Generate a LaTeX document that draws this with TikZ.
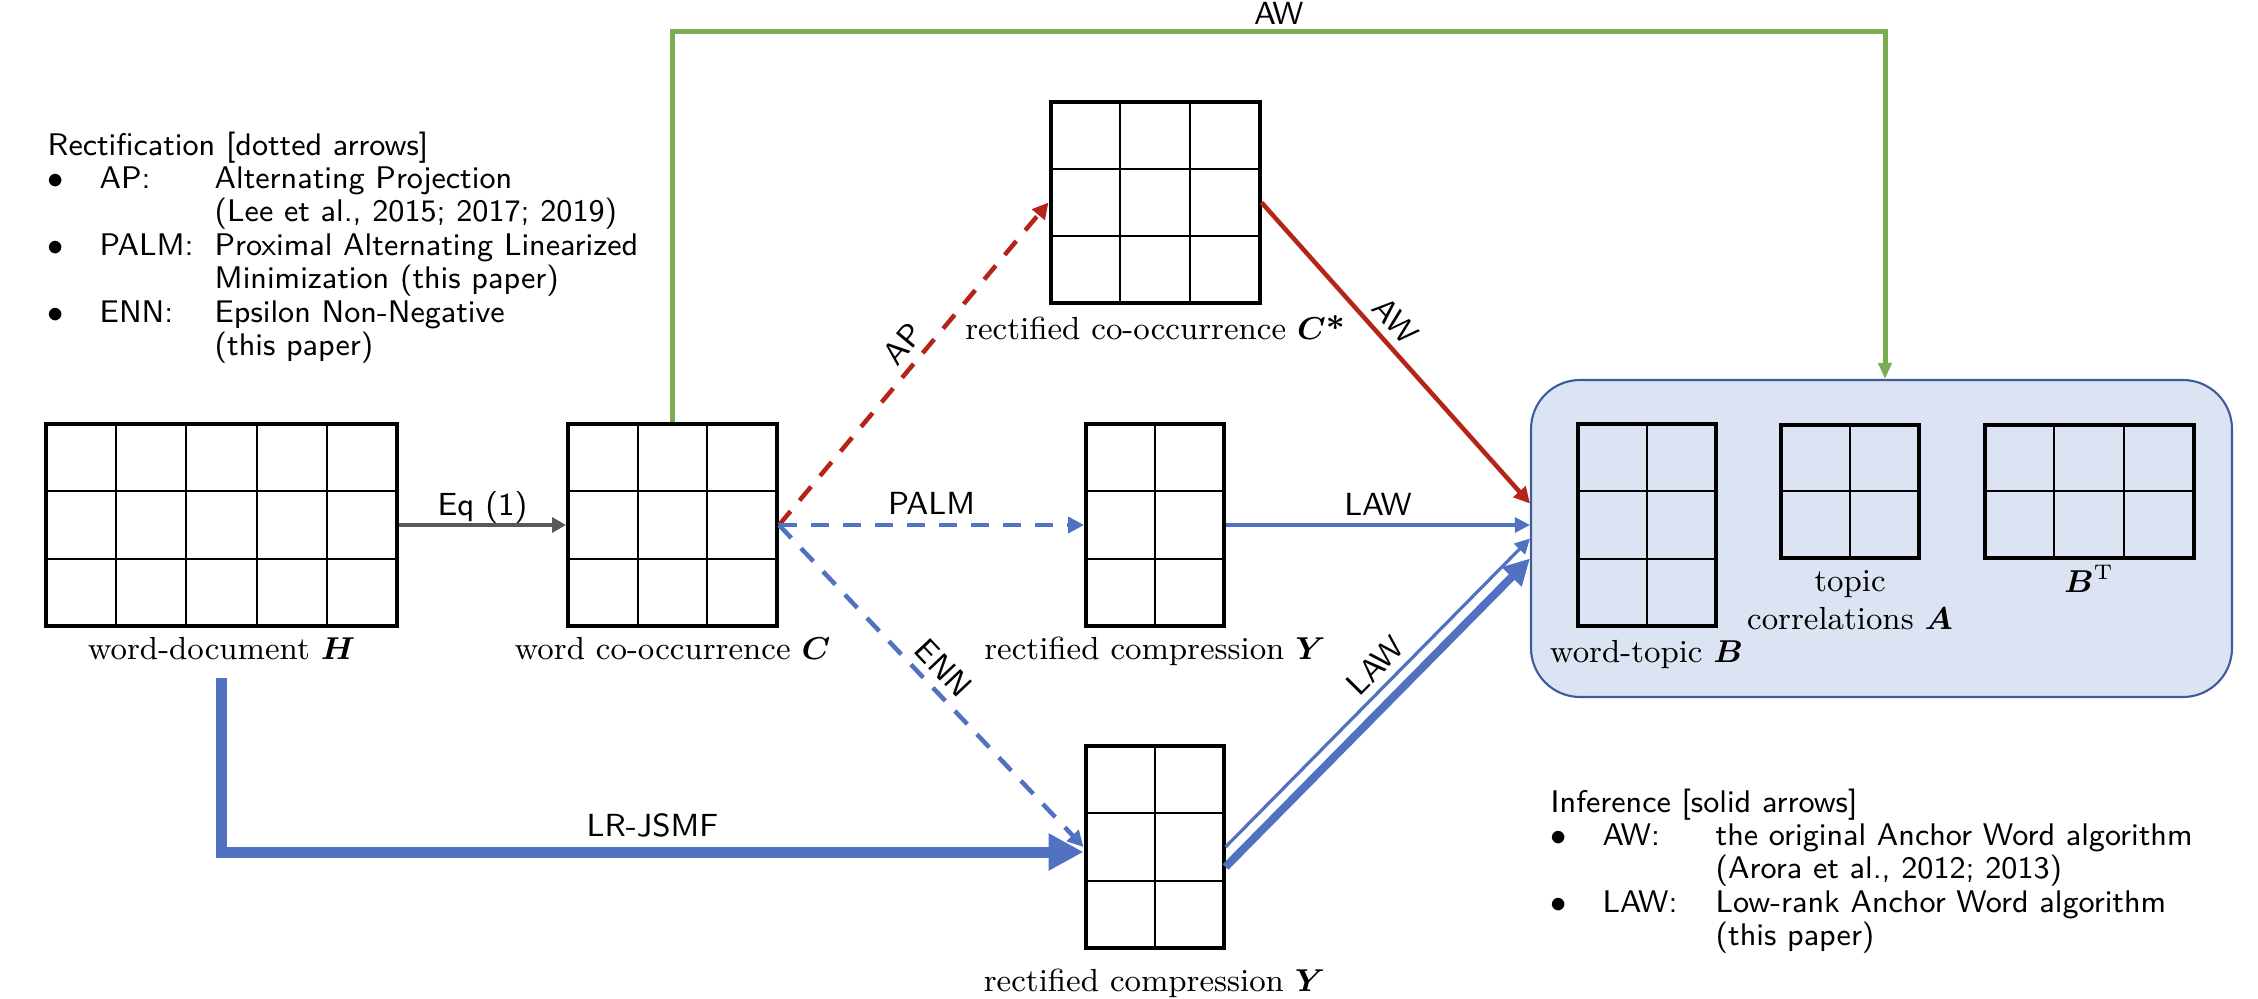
\documentclass[tikz,border=0pt]{standalone}
\usepackage{amsmath}
\usepackage{tikz}
\usetikzlibrary{positioning,calc,arrows.meta}

\definecolor{awgreen}{RGB}{122,172,84}
\definecolor{apred}{RGB}{181,36,24}
\definecolor{lawblue}{RGB}{80,114,192}
\definecolor{eqgray}{RGB}{89,89,89}
\definecolor{boxfill}{RGB}{220,227,242}
\definecolor{boxline}{RGB}{62,92,155}

\tikzset{
  mat/.style 2 args={draw, line width=0.4mm, inner sep=0pt,
    minimum width=#1*7.1mm-0.4mm, minimum height=#2*6.85mm-0.4mm,
    path picture={
      \foreach \i in {1,...,#1}
        \draw[line width=0.2mm]
          ($(path picture bounding box.north west)!\i/#1!(path picture bounding box.north east)$)
       -- ($(path picture bounding box.south west)!\i/#1!(path picture bounding box.south east)$);
      \foreach \j in {1,...,#2}
        \draw[line width=0.2mm]
          ($(path picture bounding box.north west)!\j/#2!(path picture bounding box.south west)$)
       -- ($(path picture bounding box.north east)!\j/#2!(path picture bounding box.south east)$);
    }},
  mlab/.style={font=\fontsize{9.1}{10.8}\selectfont, inner sep=0pt, anchor=base},
  elab/.style={font=\sffamily\fontsize{9.1}{11}\selectfont, text depth=0pt, inner sep=0.8mm},
  txt/.style={font=\sffamily\fontsize{8.9}{9.5}\selectfont, inner sep=0pt, anchor=base west},
  outbox/.style={draw=boxline, fill=boxfill, line width=0.6pt, rounded corners=4.9mm,
    minimum width=7.01cm, minimum height=3.17cm},
  eqarr/.style={draw=eqgray, line width=0.35mm, -{Triangle[length=1.4mm,width=1.5mm]}},
  rectred/.style={draw=apred, line width=0.45mm, dash pattern=on 1.8mm off 1.4mm,
    -{Triangle[length=1.6mm,width=1.6mm]}},
  rectblue/.style={draw=lawblue, line width=0.45mm, dash pattern=on 1.8mm off 1.4mm,
    -{Triangle[length=1.6mm,width=1.6mm]}},
  awred/.style={draw=apred, line width=0.45mm, -{Triangle[length=1.6mm,width=1.6mm]}},
  lawline/.style={draw=lawblue, line width=0.32mm, -{Triangle[length=1.5mm,width=1.5mm]}},
  lawthick/.style={draw=lawblue, line width=0.8mm, -{Triangle[length=2.6mm,width=2.6mm]}},
  jsmf/.style={draw=lawblue, line width=1.1mm, -{Triangle[length=3.5mm,width=3.5mm]}},
  awline/.style={draw=awgreen, line width=0.5mm, -{Triangle[length=1.6mm,width=1.3mm]}}
}

\begin{document}
\begin{tikzpicture}
\useasboundingbox (0,0) rectangle (22.58,9.98);

% inference box
\node[outbox] (box) at (18.815,4.595) {};

% matrices
\node[mat={5}{3}] (H) at (2.215,4.73) {};
\node[mat={3}{3}] (C) at (6.725,4.73) {};
\node[mat={3}{3}] (Cs) at (11.55,7.955) {};
\node[mat={2}{3}] (Y) at (11.55,4.73) {};
\node[mat={2}{3}] (Yb) at (11.545,1.51) {};
\node[mat={2}{3}] (B) at (16.465,4.73) {};
\node[mat={2}{2}] (A) at (18.5,5.07) {};
\node[mat={3}{2}] (BT) at (20.89,5.07) {};

% matrix labels
\node[mlab] (Hl) at ([yshift=-3.2mm]H.south) {word-document $\boldsymbol{H}$};
\node[mlab] (Cl) at ([yshift=-3.2mm]C.south) {word co-occurrence $\boldsymbol{C}$};
\node[mlab] (Csl) at ([yshift=-3.4mm]Cs.south) {rectified co-occurrence $\boldsymbol{C}$\textbf{*}};
\node[mlab] (Yl) at ([yshift=-3.2mm]Y.south) {rectified compression $\boldsymbol{Y}$};
\node[mlab] (Ybl) at ([yshift=-4.2mm]Yb.south) {rectified compression $\boldsymbol{Y}$};
\node[mlab] (Bl) at ([yshift=-3.5mm]B.south) {word-topic $\boldsymbol{B}$};
\node[mlab, anchor=south, align=center] (Al) at ([yshift=-7.1mm]A.south) {topic\\correlations $\boldsymbol{A}$};
\node[mlab] (BTl) at ([yshift=-3.3mm]BT.south) {$\boldsymbol{B}^{\mathrm{T}}$};

% legends
\node[txt] (rect) at (0.47,8.43) {%
\begin{tabular}[t]{@{}p{5.2mm}@{}p{11.5mm}@{}l@{}}
\multicolumn{3}{@{}l@{}}{Rectification [dotted arrows]}\\
$\bullet$ & AP: & Alternating Projection\\
 & & (Lee et al., 2015; 2017; 2019)\\
$\bullet$ & PALM: & Proximal Alternating Linearized\\
 & & Minimization (this paper)\\
$\bullet$ & ENN: & Epsilon Non-Negative\\
 & & (this paper)
\end{tabular}};
\node[txt] (infer) at (15.50,1.86) {%
\begin{tabular}[t]{@{}p{5.2mm}@{}p{11.3mm}@{}l@{}}
\multicolumn{3}{@{}l@{}}{Inference [solid arrows]}\\
$\bullet$ & AW: & the original Anchor Word algorithm\\
 & & (Arora et al., 2012; 2013)\\
$\bullet$ & LAW: & Low-rank Anchor Word algorithm\\
 & & (this paper)
\end{tabular}};

% connectors
\coordinate (awtop) at (18.85,9.66);
\draw[eqarr] (H.east) -- node[elab, above]{Eq (1)} (C.west);
\draw[awline] (C.north) |- node[elab, above, pos=0.75, inner sep=0.5mm]{AW} (awtop) -- (awtop |- box.north);
\draw[rectred] (C.east) -- node[elab, above, sloped, pos=0.52]{AP} (Cs.west);
\draw[rectblue] (C.east) -- node[elab, above]{PALM} (Y.west);
\draw[rectblue] (C.east) -- node[elab, above, sloped, pos=0.49]{ENN} (Yb.west);
\draw[awred] (Cs.east) -- node[elab, above, sloped, pos=0.44]{AW} ([yshift=3.5mm]box.west);
\draw[lawline] (Y.east) -- node[elab, above]{LAW} (box.west |- Y.east);
\draw[lawline] (Yb.east) -- node[elab, above, sloped, pos=0.54]{LAW} (box.west);
\draw[lawthick] ([yshift=-2mm]Yb.east) -- ([yshift=-2mm]box.west);
\draw[jsmf] ([yshift=-1.8mm]Hl.base) |- node[elab, above, pos=0.75, inner sep=1mm]{LR-JSMF} ([yshift=-0.5mm]Yb.west);
\end{tikzpicture}
\end{document}
